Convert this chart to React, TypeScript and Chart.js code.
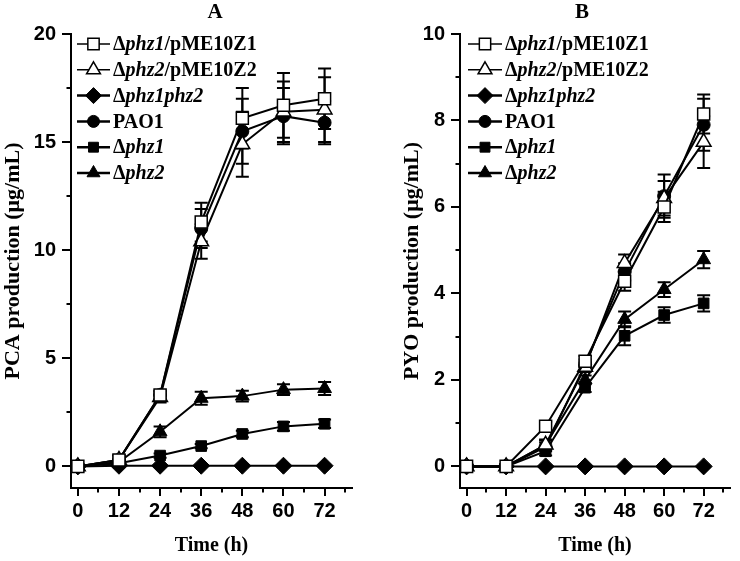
import React, { useEffect, useRef } from "react";
import { Chart, registerables } from "chart.js";
import { drawPoint } from "chart.js/helpers";

Chart.register(...registerables);

// ---------- data ----------
const hours = [0, 12, 24, 36, 48, 60, 72];
const xTickValues = [0, 6, 12, 18, 24, 30, 36, 42, 48, 54, 60, 66, 72, 78];
const xLabelValues = [0, 12, 24, 36, 48, 60, 72];

const seriesNames = ["Δphz1/pME10Z1", "Δphz2/pME10Z2", "Δphz1phz2", "PAO1", "Δphz1", "Δphz2"];
// legend text pieces: [text, italic]
const legendParts: [string, boolean][][] = [
  [["Δ", false], ["phz1", true], ["/pME10Z1", false]],
  [["Δ", false], ["phz2", true], ["/pME10Z2", false]],
  [["Δ", false], ["phz1phz2", true]],
  [["PAO1", false]],
  [["Δ", false], ["phz1", true]],
  [["Δ", false], ["phz2", true]],
];
const pointStyles = ["rect", "triangle", "rectRot", "circle", "rect", "triangle"];
const hollow = [true, true, false, false, false, false];
const pointRadii = [8.5, 8.5, 8.5, 6.5, 7.5, 8];

// Panel A: PCA production (µg/mL)
const pcaPhz1Comp = [0, 0.3, 3.3, 11.3, 16.1, 16.7, 17.0];
const pcaPhz1CompErr = [0.1, 0.2, 0.2, 0.9, 1.4, 1.5, 1.4];
const pcaPhz2Comp = [0, 0.3, 3.2, 10.4, 14.9, 16.4, 16.5];
const pcaPhz2CompErr = [0.1, 0.2, 0.25, 0.8, 1.5, 1.4, 1.5];
const pcaDouble = [0, 0.03, 0.03, 0.03, 0.03, 0.03, 0.03];
const pcaDoubleErr = [0.05, 0.05, 0.05, 0.05, 0.05, 0.05, 0.05];
const pcaPAO1 = [0, 0.3, 3.3, 11.0, 15.5, 16.2, 15.9];
const pcaPAO1Err = [0.1, 0.2, 0.2, 0.9, 1.5, 1.3, 1.0];
const pcaPhz1 = [0, 0.15, 0.5, 0.94, 1.5, 1.85, 1.97];
const pcaPhz1Err = [0.05, 0.1, 0.1, 0.1, 0.15, 0.2, 0.2];
const pcaPhz2 = [0, 0.2, 1.6, 3.15, 3.25, 3.55, 3.6];
const pcaPhz2Err = [0.05, 0.1, 0.25, 0.3, 0.25, 0.25, 0.3];

// Panel B: PYO production (µg/mL)
const pyoPhz1Comp = [0, 0, 0.93, 2.43, 4.28, 6.0, 8.15];
const pyoPhz1CompErr = [0.05, 0.05, 0.1, 0.12, 0.22, 0.35, 0.45];
const pyoPhz2Comp = [0, 0, 0.5, 2.3, 4.7, 6.2, 7.5];
const pyoPhz2CompErr = [0.05, 0.05, 0.1, 0.12, 0.2, 0.4, 0.6];
const pyoDouble = [0, 0, 0, 0, 0, 0, 0];
const pyoDoubleErr = [0.02, 0.02, 0.02, 0.02, 0.02, 0.02, 0.02];
const pyoPAO1 = [0, 0, 0.45, 2.35, 4.5, 6.25, 7.9];
const pyoPAO1Err = [0.05, 0.05, 0.1, 0.12, 0.2, 0.5, 0.6];
const pyoPhz1 = [0, 0, 0.35, 1.82, 3.02, 3.5, 3.77];
const pyoPhz1Err = [0.05, 0.05, 0.1, 0.1, 0.22, 0.18, 0.19];
const pyoPhz2 = [0, 0, 0.5, 2.0, 3.4, 4.09, 4.78];
const pyoPhz2Err = [0.05, 0.05, 0.12, 0.1, 0.18, 0.17, 0.2];

const pcaSeries = [pcaPhz1Comp, pcaPhz2Comp, pcaDouble, pcaPAO1, pcaPhz1, pcaPhz2];
const pcaErrors = [pcaPhz1CompErr, pcaPhz2CompErr, pcaDoubleErr, pcaPAO1Err, pcaPhz1Err, pcaPhz2Err];
const pyoSeries = [pyoPhz1Comp, pyoPhz2Comp, pyoDouble, pyoPAO1, pyoPhz1, pyoPhz2];
const pyoErrors = [pyoPhz1CompErr, pyoPhz2CompErr, pyoDoubleErr, pyoPAO1Err, pyoPhz1Err, pyoPhz2Err];

const pcaYTicks = [0, 2.5, 5, 7.5, 10, 12.5, 15, 17.5, 20];
const pcaYLabels = [0, 5, 10, 15, 20];
const pyoYTicks = [0, 1, 2, 3, 4, 5, 6, 7, 8, 9, 10];
const pyoYLabels = [0, 2, 4, 6, 8, 10];

// ---------- styling ----------
const SERIF = "'Liberation Serif', 'Times New Roman', serif";
const SANS = "'Liberation Sans Narrow', 'Liberation Sans', Arial, sans-serif";
const tickFont = { family: SANS, size: 20, weight: "bold" as const };
const xTitleFont = { family: SERIF, size: 20, weight: "bold" as const };
const yTitleFont = { family: SERIF, size: 22, weight: "bold" as const };

type PanelCfg = {
  letter: string;
  letterDx: number;
  yTitle: string;
  series: number[][];
  errors: number[][];
  yMin: number;
  yMax: number;
  yTicks: number[];
  yLabels: number[];
  left: number;
  width: number;
  yAxisWidth: number;
  rightPad: number;
  yTitlePad: number;
  legX0: number;
  legX1: number;
  legText: number;
};

const errorBarPlugin = {
  id: "errorBars",
  beforeDatasetsDraw(chart: any) {
    const ctx = chart.ctx;
    const ys = chart.scales.y;
    ctx.save();
    ctx.strokeStyle = "#000";
    ctx.lineWidth = 2;
    chart.data.datasets.forEach((ds: any, i: number) => {
      const meta = chart.getDatasetMeta(i);
      if (!ds.errors) return;
      meta.data.forEach((pt: any, j: number) => {
        const v = ds.data[j].y;
        const e = ds.errors[j];
        const x = pt.x;
        const yt = ys.getPixelForValue(v + e);
        const yb = ys.getPixelForValue(v - e);
        ctx.beginPath();
        ctx.moveTo(x, yt);
        ctx.lineTo(x, yb);
        ctx.moveTo(x - 6.5, yt);
        ctx.lineTo(x + 6.5, yt);
        ctx.moveTo(x - 6.5, yb);
        ctx.lineTo(x + 6.5, yb);
        ctx.stroke();
      });
    });
    ctx.restore();
  },
};

const decorPlugin = {
  id: "decor",
  afterDraw(chart: any, _args: any, opts: any) {
    const cfg: PanelCfg = opts.cfg;
    const ctx = chart.ctx;
    const ca = chart.chartArea;
    const xs = chart.scales.x;
    const ys = chart.scales.y;
    ctx.save();
    ctx.strokeStyle = "#000";
    ctx.lineWidth = 2;
    // axis ticks (major long, minor short)
    xs.ticks.forEach((t: any) => {
      const px = Math.round(xs.getPixelForValue(t.value));
      const len = xLabelValues.includes(t.value) ? 8 : 4.5;
      ctx.beginPath();
      ctx.moveTo(px, ca.bottom);
      ctx.lineTo(px, ca.bottom + len);
      ctx.stroke();
    });
    ys.ticks.forEach((t: any) => {
      const py = Math.round(ys.getPixelForValue(t.value));
      const len = cfg.yLabels.includes(t.value) ? 9 : 4.5;
      ctx.beginPath();
      ctx.moveTo(ca.left, py);
      ctx.lineTo(ca.left - len, py);
      ctx.stroke();
    });

    // panel letter
    ctx.fillStyle = "#000";
    ctx.font = `bold 21px ${SERIF}`;
    ctx.textAlign = "center";
    ctx.textBaseline = "middle";
    ctx.fillText(cfg.letter, ca.left + cfg.letterDx, 13);

    // legend
    ctx.textAlign = "left";
    chart.data.datasets.forEach((ds: any, i: number) => {
      const y = ca.top + 10 + i * 25.8;
      ctx.strokeStyle = "#000";
      ctx.lineWidth = hollow[i] ? 1.5 : 2.5;
      ctx.beginPath();
      ctx.moveTo(ca.left + cfg.legX0, y);
      ctx.lineTo(ca.left + cfg.legX1, y);
      ctx.stroke();
      ctx.fillStyle = hollow[i] ? "#fff" : "#000";
      ctx.lineWidth = hollow[i] ? 1.5 : 1;
      drawPoint(ctx, { pointStyle: pointStyles[i], radius: pointRadii[i] - 0.5, rotation: 0, borderWidth: hollow[i] ? 1.5 : 1 } as any, ca.left + (cfg.legX0 + cfg.legX1) / 2, y);
      let x = ca.left + cfg.legText;
      ctx.fillStyle = "#000";
      legendParts[i].forEach(([txt, it]) => {
        ctx.font = `${it ? "italic " : ""}bold 20px ${SERIF}`;
        ctx.fillText(txt, x, y + 1);
        x += ctx.measureText(txt).width;
      });
    });
    ctx.restore();
  },
};

function Panel({ cfg }: { cfg: PanelCfg }) {
  const ref = useRef<HTMLCanvasElement>(null);
  useEffect(() => {
    const datasets = cfg.series.map((vals, i) => ({
      label: seriesNames[i],
      data: vals.map((v, j) => ({ x: hours[j], y: v })),
      errors: cfg.errors[i],
      borderColor: "#000",
      borderWidth: 2,
      backgroundColor: hollow[i] ? "#fff" : "#000",
      pointStyle: pointStyles[i],
      pointRadius: pointRadii[i],
      pointBorderWidth: hollow[i] ? 1.5 : 1,
      pointBackgroundColor: hollow[i] ? "#fff" : "#000",
      pointBorderColor: "#000",
      tension: 0,
      fill: false,
    }));
    const chart = new Chart(ref.current!, {
      type: "line",
      data: { datasets } as any,
      plugins: [errorBarPlugin, decorPlugin],
      options: {
        responsive: false,
        animation: false,
        events: [],
        layout: { padding: { left: 0, right: cfg.rightPad, top: 34, bottom: 0 } },
        plugins: {
          legend: { display: false },
          tooltip: { enabled: false },
          title: { display: false },
          decor: { cfg },
        } as any,
        scales: {
          x: {
            type: "linear",
            min: -2,
            max: 80,
            afterBuildTicks: (s: any) => {
              s.ticks = xTickValues.map((v) => ({ value: v }));
            },
            afterFit: (s: any) => {
              s.height = 73;
            },
            border: { display: true, color: "#000", width: 2 },
            grid: { drawOnChartArea: false, drawTicks: true, tickLength: 8, tickColor: "rgba(0,0,0,0)" },
            ticks: {
              autoSkip: false,
              maxRotation: 0,
              color: "#000",
              font: tickFont,
              padding: 3,
              callback: (v: any) => (xLabelValues.includes(v) ? String(v) : ""),
            },
            title: { display: true, text: "Time (h)", color: "#000", font: xTitleFont, padding: { top: 0, bottom: 3 } },
          },
          y: {
            type: "linear",
            min: cfg.yMin,
            max: cfg.yMax,
            afterBuildTicks: (s: any) => {
              s.ticks = cfg.yTicks.map((v) => ({ value: v }));
            },
            afterFit: (s: any) => {
              s.width = cfg.yAxisWidth;
            },
            border: { display: true, color: "#000", width: 2 },
            grid: { drawOnChartArea: false, drawTicks: true, tickLength: 9, tickColor: "rgba(0,0,0,0)" },
            ticks: {
              autoSkip: false,
              color: "#000",
              font: tickFont,
              padding: 6,
              callback: (v: any) => (cfg.yLabels.includes(v) ? String(v) : ""),
            },
            title: { display: true, text: cfg.yTitle, color: "#000", font: yTitleFont, padding: { top: cfg.yTitlePad, bottom: 0 } },
          },
        },
      } as any,
    });
    return () => chart.destroy();
  }, []);
  return (
    <canvas
      ref={ref}
      width={cfg.width}
      height={561}
      style={{ position: "absolute", left: cfg.left, top: 0, width: cfg.width, height: 561 }}
    />
  );
}

const panelA: PanelCfg = {
  letter: "A",
  letterDx: 144,
  yTitle: "PCA production (μg/mL)",
  series: pcaSeries,
  errors: pcaErrors,
  yMin: -1,
  yMax: 20,
  yTicks: pcaYTicks,
  yLabels: pcaYLabels,
  left: 0,
  width: 380,
  yAxisWidth: 71,
  rightPad: 28,
  yTitlePad: 0,
  legX0: 6,
  legX1: 39,
  legText: 42,
};

const panelB: PanelCfg = {
  letter: "B",
  letterDx: 122,
  yTitle: "PYO production (μg/mL)",
  series: pyoSeries,
  errors: pyoErrors,
  yMin: -0.5,
  yMax: 10,
  yTicks: pyoYTicks,
  yLabels: pyoYLabels,
  left: 380,
  width: 360,
  yAxisWidth: 80,
  rightPad: 2,
  yTitlePad: 19,
  legX0: 8,
  legX1: 42,
  legText: 45,
};

export default function App() {
  return (
    <div style={{ position: "fixed", left: 0, top: 0, width: 740, height: 561, background: "#fff", overflow: "hidden" }}>
      <Panel cfg={panelA} />
      <Panel cfg={panelB} />
    </div>
  );
}
